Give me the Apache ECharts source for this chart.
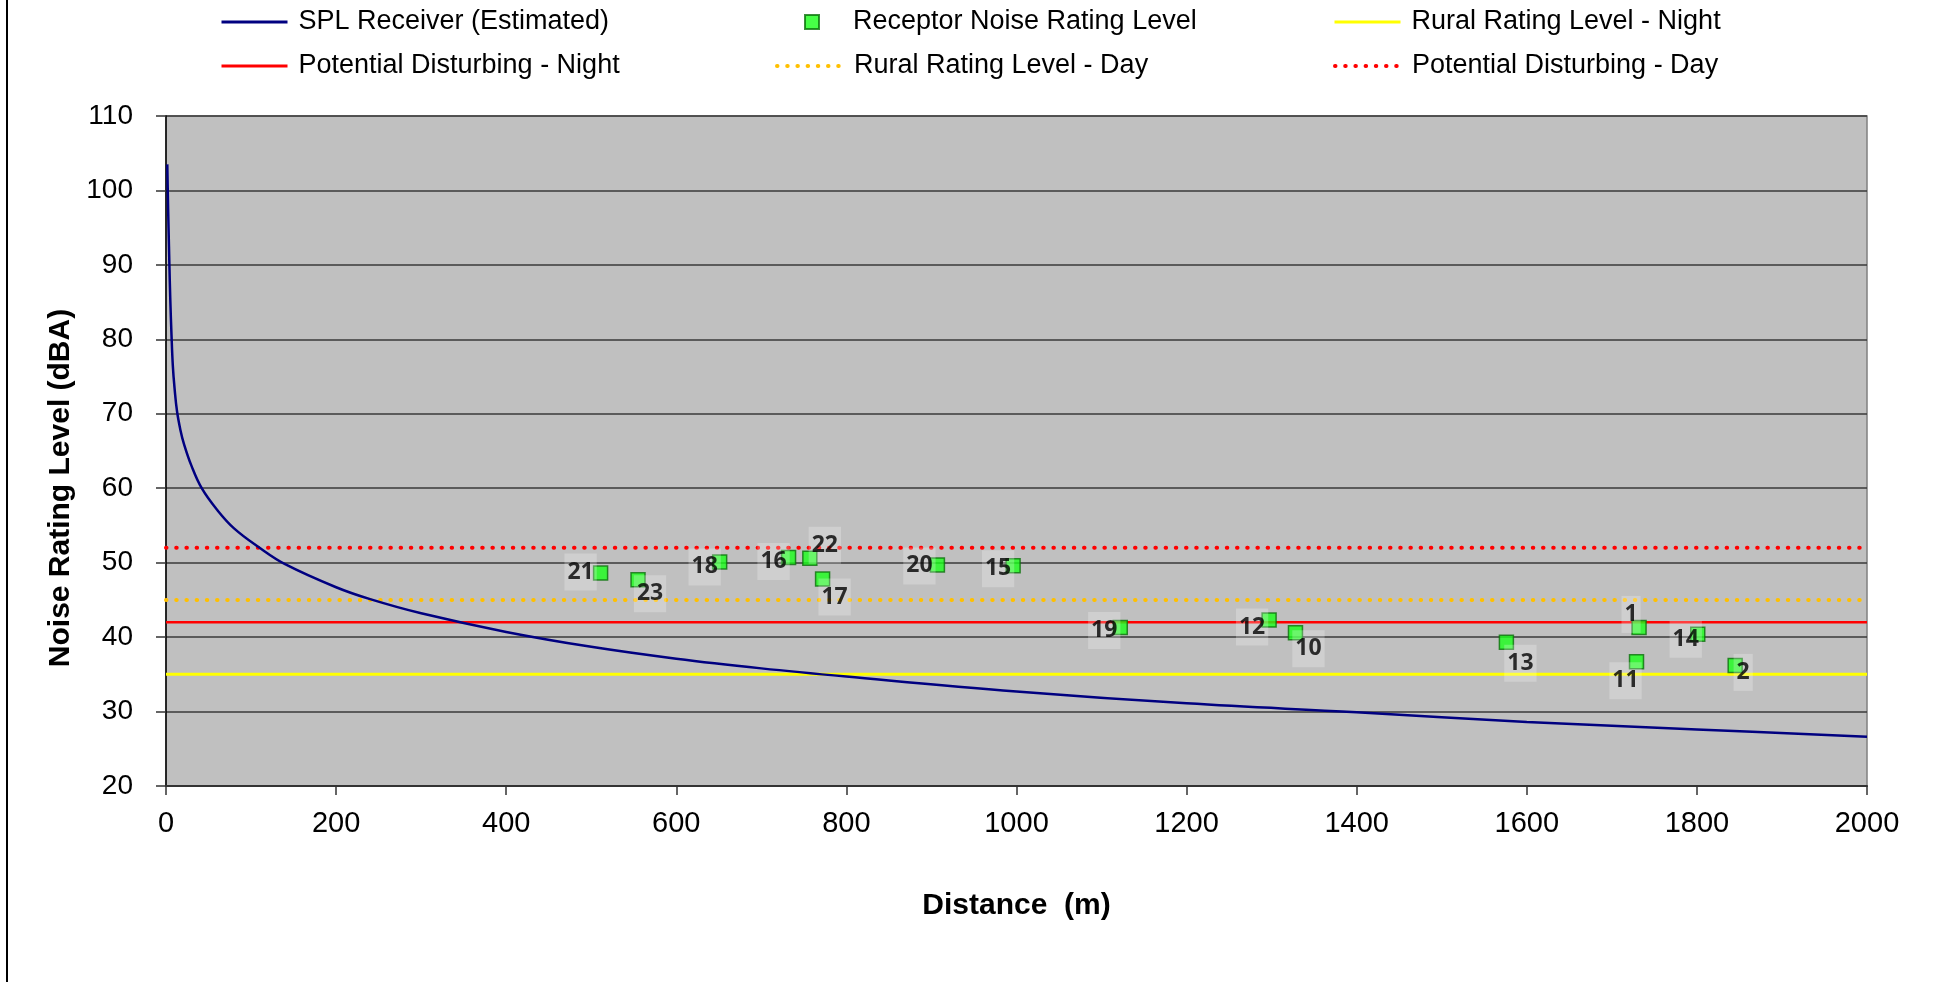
<!DOCTYPE html>
<html>
<head>
<meta charset="utf-8">
<script src="https://cdn.jsdelivr.net/npm/echarts@6/dist/echarts.min.js"></script>
<style>
  html, body { margin: 0; padding: 0; background: #fff; }
  #main { width: 1936px; height: 982px; }
</style>
</head>
<body>
<div id="main"></div>
<script>
// estimated receiver SPL curve
var splDist  = [1.5, 2.5, 3.5, 4, 5, 6.5, 8, 10, 13, 17, 21, 30, 42, 60, 80, 110, 140, 200, 240, 300, 400, 500, 600, 700, 800, 1000, 1200, 1400, 1600, 1800, 2000];
var splLevel = [103.5, 97.5, 92.5, 90, 85.5, 80.5, 76.5, 73.5, 70.3, 67.8, 66, 63, 60, 57.1, 54.6, 52, 49.8, 46.7, 45.1, 43.2, 40.7, 38.7, 37.1, 35.8, 34.7, 32.7, 31.1, 29.9, 28.6, 27.6, 26.6];

// receptors
var receptorIds   = ['21', '23', '18', '16', '22', '17', '20', '15', '19', '12', '10', '13', '1', '11', '14', '2'];
var receptorDist  = [511, 555, 651, 732, 757, 772, 907, 996, 1122, 1297, 1328, 1576, 1732, 1729, 1801, 1845];
var receptorLevel = [48.6, 47.7, 50.1, 50.7, 50.6, 47.8, 49.7, 49.6, 41.3, 42.3, 40.6, 39.3, 41.3, 36.7, 40.4, 36.2];

// limit lines
var limitRange      = [0, 2000];
var ruralNight      = 35;
var ruralDay        = 45;
var disturbingNight = 42;
var disturbingDay   = 52;

// label placement (px offset of each label from its marker)
var labelOffsets = [[-20, -1], [12, 14], [-15, 5], [-15, 4], [15, -13], [12, 18], [-18, 1], [-15, 3],
                    [-16, 3], [-17, 7], [13, 16], [14, 21], [-8, -13], [-11, 19], [-12, 5], [8, 7]];

var FONT = 'Liberation Sans, Arial, sans-serif';

var flat = function(v) {
  return limitRange.map(function(x) { return [x, v]; });
};
var dotted = function(color) {
  return { color: color, width: 4, type: [0.5, 9.7], cap: 'round' };
};

var receptorData = receptorIds.map(function(id, i) {
  return {
    name: id,
    value: [receptorDist[i], receptorLevel[i]],
    label: { offset: labelOffsets[i] }
  };
});

var legendText = function(padLeft) {
  return { fontFamily: FONT, fontSize: 27, color: '#000', lineHeight: 30, padding: [0, 0, 0, padLeft] };
};
var legendItem = function(name, left, top, lineWidth, opts) {
  var l = {
    data: [name],
    left: left,
    top: top,
    orient: 'vertical',
    itemWidth: 66,
    itemHeight: 14,
    selectedMode: false,
    // hide the dot that line series put in the middle of their legend icon
    itemStyle: { opacity: 0 },
    lineStyle: { width: lineWidth },
    textStyle: legendText(6)
  };
  if (opts) {
    for (var k in opts) l[k] = opts[k];
  }
  return l;
};

var chart = echarts.init(document.getElementById('main'));
chart.setOption({
  animation: false,
  backgroundColor: '#fff',
  graphic: [{
    type: 'line',
    shape: { x1: 7, y1: 0, x2: 7, y2: 982 },
    style: { stroke: '#000', lineWidth: 2 }
  }],
  legend: [
    legendItem('SPL Receiver (Estimated)', 215, 2, 3),
    legendItem('Potential Disturbing - Night', 215, 46, 3),
    legendItem('Receptor Noise Rating Level', 799, 2, 3, {
      itemWidth: 14,
      itemStyle: {},
      textStyle: legendText(29)
    }),
    legendItem('Rural Rating Level - Day', 770, 46, 4),
    legendItem('Rural Rating Level - Night', 1328, 2, 3),
    legendItem('Potential Disturbing - Day', 1328, 46, 4)
  ],
  grid: {
    left: 166, right: 69, top: 116, height: 670,
    show: true,
    backgroundColor: '#c0c0c0',
    borderColor: '#808080',
    borderWidth: 1.5
  },
  xAxis: {
    type: 'value',
    min: 0, max: 2000, interval: 200,
    name: 'Distance  (m)',
    nameLocation: 'middle',
    nameGap: 105,
    nameTextStyle: { fontFamily: FONT, fontSize: 30, fontWeight: 'bold', color: '#000' },
    axisLine: { show: true, lineStyle: { color: '#333', width: 2 } },
    axisTick: { show: true, length: 9, lineStyle: { color: '#333', width: 1.5 } },
    axisLabel: {
      fontFamily: FONT, fontSize: 29, color: '#000', margin: 23,
      formatter: function(v) { return String(v); }
    },
    splitLine: { show: false }
  },
  yAxis: {
    type: 'value',
    min: 20, max: 110, interval: 10,
    name: 'Noise Rating Level (dBA)',
    nameLocation: 'middle',
    nameRotate: 90,
    nameGap: 79,
    nameTextStyle: { fontFamily: FONT, fontSize: 30, fontWeight: 'bold', color: '#000', padding: [0, 74, 0, 0] },
    axisLine: { show: true, lineStyle: { color: '#000', width: 1.5 } },
    axisTick: { show: true, length: 10, lineStyle: { color: '#333', width: 1.5 } },
    axisLabel: { fontFamily: FONT, fontSize: 28, color: '#000', margin: 33 },
    splitLine: { show: true, lineStyle: { color: '#3a3a3a', width: 1.5 } }
  },
  series: [
    {
      name: 'Rural Rating Level - Night',
      type: 'line',
      symbol: 'none',
      data: flat(ruralNight),
      lineStyle: { color: '#ffff00', width: 3 },
      itemStyle: { color: '#ffff00' },
      z: 2
    },
    {
      name: 'Potential Disturbing - Night',
      type: 'line',
      symbol: 'none',
      data: flat(disturbingNight),
      lineStyle: { color: '#ff0000', width: 2.5 },
      itemStyle: { color: '#ff0000' },
      z: 2
    },
    {
      name: 'Rural Rating Level - Day',
      type: 'line',
      symbol: 'none',
      data: flat(ruralDay),
      lineStyle: dotted('#ffc000'),
      itemStyle: { color: '#ffc000' },
      z: 2
    },
    {
      name: 'Potential Disturbing - Day',
      type: 'line',
      symbol: 'none',
      data: flat(disturbingDay),
      lineStyle: dotted('#ff0000'),
      itemStyle: { color: '#ff0000' },
      z: 2
    },
    {
      name: 'SPL Receiver (Estimated)',
      type: 'line',
      symbol: 'none',
      smooth: 0.4,
      data: splDist.map(function(d, i) { return [d, splLevel[i]]; }),
      lineStyle: { color: '#000080', width: 2.5 },
      itemStyle: { color: '#000080' },
      z: 3
    },
    {
      name: 'Receptor Noise Rating Level',
      type: 'scatter',
      symbol: 'rect',
      symbolSize: 14,
      data: receptorData,
      itemStyle: { color: '#19ff19', borderColor: '#0b700b', borderWidth: 1.5 },
      label: {
        show: true,
        position: 'inside',
        formatter: '{b}',
        fontFamily: 'Open Sans, DejaVu Sans, sans-serif',
        fontWeight: 'bold',
        fontSize: 23,
        lineHeight: 25,
        color: '#000',
        align: 'center',
        verticalAlign: 'middle',
        backgroundColor: 'rgba(255,255,255,0.3)',
        padding: [6, 3]
      },
      z: 4
    }
  ]
});
</script>
</body>
</html>
